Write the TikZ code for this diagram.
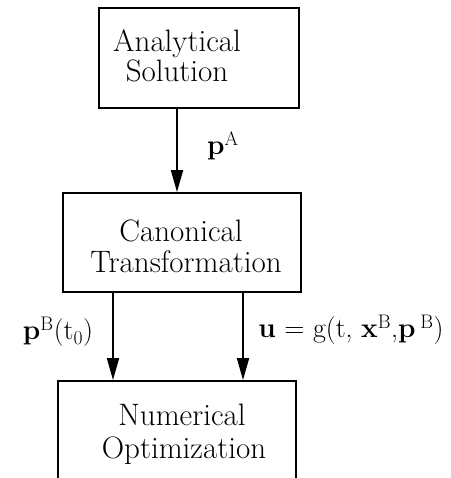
\documentclass[tikz,border=0pt]{standalone}
\usetikzlibrary{arrows.meta}
\begin{document}
\begin{tikzpicture}[x=1pt,y=-1pt,
  box/.style={draw, line width=1.8pt, inner sep=0pt},
  txt/.style={inner sep=0pt, anchor=base, font=\fontsize{31}{31}\selectfont},
  arr/.style={line width=1.8pt, -{Triangle[length=22pt,width=12pt]}},
  lab/.style={inner sep=0pt, font=\fontsize{28}{30}\selectfont}]
\useasboundingbox (0,0) rectangle (450,478);
\clip (0,0) rectangle (450,478);
\node[box, minimum width=200pt, minimum height=100pt] (A) at (199,58) {};
\node[box, minimum width=238pt, minimum height=99pt] (B) at (182,242.5) {};
\node[box, minimum width=238pt, minimum height=104pt] (C) at (177,433) {};
\node[txt] (A1) at (177,52) {Analytical};
\node[txt] (A2) at (177,82) {Solution};
\node[txt] (B1) at (181,241) {Canonical};
\node[txt] (B2) at (186,272) {Transformation};
\node[txt] (C1) at (182,425) {Numerical};
\node[txt] (C2) at (184,458) {Optimization};
\draw[arr] ([xshift=-22pt]A.south) -- ([xshift=-22pt]A.south |- B.north);
\draw[arr] ([xshift=-69pt]B.south) -- ([xshift=-69pt]B.south |- C.north);
\draw[arr] ([xshift=61pt]B.south) -- ([xshift=61pt]B.south |- C.north);
\node[lab] (la) at (223,146) {\textbf{p}\textsuperscript{A}};
\node[lab] (lb) at (58,332) {\textbf{p}\textsuperscript{B}(t\textsubscript{0})};
\node[lab] (lc) at (351,330) {\textbf{u}~=~g(t, \textbf{x}\textsuperscript{B},\textbf{p}\,\textsuperscript{B})};
\end{tikzpicture}
\end{document}
